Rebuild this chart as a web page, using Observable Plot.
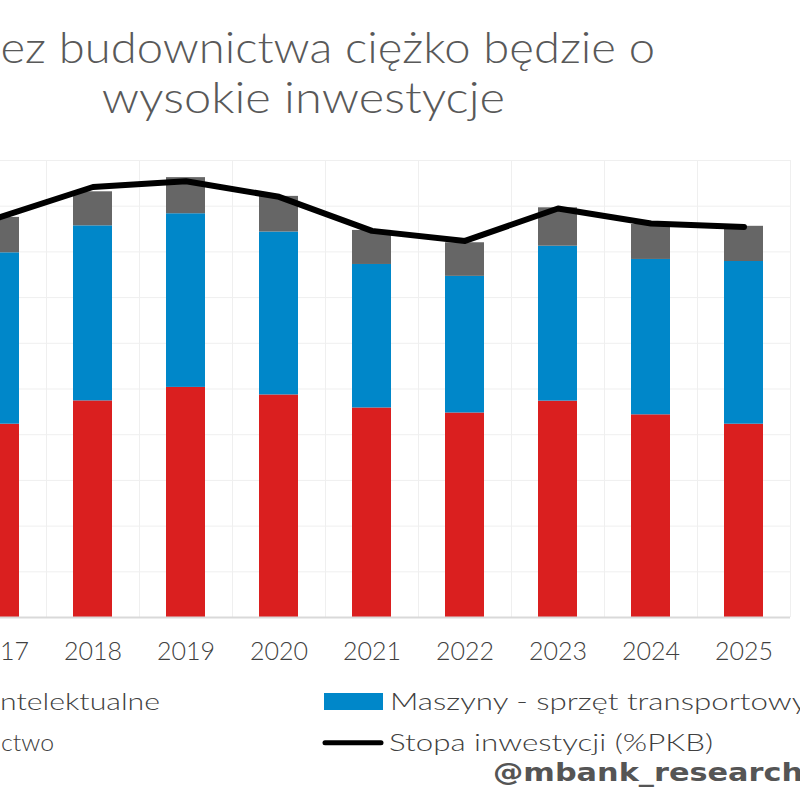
<!DOCTYPE html>
<html><head><meta charset="utf-8">
<script src="https://cdn.jsdelivr.net/npm/d3@7"></script>
<script src="https://cdn.jsdelivr.net/npm/@observablehq/plot@0.6"></script>
<style>
html,body{margin:0;padding:0;background:#fff;}
#wrap{position:relative;width:800px;height:800px;overflow:hidden;background:#fff;}
#chart svg{position:absolute;left:-100px;top:140px;max-width:none !important;width:900px !important;height:539px !important;}
#overlay{position:absolute;left:0;top:0;}
</style>
</head><body>
<div id="wrap"><div id="chart"></div><svg id="overlay" width="800" height="800"></svg></div>
<script>
const years = ["2017","2018","2019","2020","2021","2022","2023","2024","2025"];
const budownictwo = [8.46, 9.48, 10.07, 9.74, 9.17, 8.95, 9.47, 8.87, 8.46];
const maszyny = [7.50, 7.66, 7.60, 7.13, 6.28, 5.98, 6.78, 6.80, 7.12];
const intelektualne = [1.55, 1.49, 1.58, 1.56, 1.49, 1.47, 1.68, 1.53, 1.54];
const stopaInwestycji = [17.52, 18.84, 19.09, 18.41, 16.92, 16.48, 17.90, 17.24, 17.09];
const yTicks = [2,4,6,8,10,12,14,16,18,20];
const seriesNames = ["Budownictwo", "Maszyny - sprzęt transportowy", "Zasoby intelektualne"];
const seriesColors = ["#da1f1f", "#0087c9", "#666666"];
const lineName = "Stopa inwestycji (%PKB)";
const titleLines = ["Bez budownictwa ciężko będzie o", "wysokie inwestycje"];
const credit = "@mbank_research";

const FONT = "Lato, 'Open Sans', sans-serif";
const seriesValues = [budownictwo, maszyny, intelektualne];
const rows = years.flatMap((yr, i) => seriesNames.map((s, k) => ({year: yr, series: s, value: seriesValues[k][i]})));
const lineRows = years.map((yr, i) => ({year: yr, value: stopaInwestycji[i]}));

const W = 900, ML = 53, MR = 10;
const step = (W - ML - MR) / years.length;

const chart = Plot.plot({
  width: W, height: 539,
  marginLeft: ML, marginRight: MR, marginTop: 20, marginBottom: 62,
  style: {fontFamily: FONT, fontSize: "25px", color: "#404040", background: "transparent", fontWeight: 300},
  x: {type: "band", domain: years, paddingInner: 0.58, paddingOuter: 0.29, tickSize: 0, tickPadding: 25, label: null},
  y: {domain: [0, 20], axis: null},
  color: {domain: seriesNames, range: seriesColors},
  marks: [
    Plot.ruleY(yTicks, {y: d => d, stroke: "#efefef", strokeWidth: 1}),
    Plot.ruleX(years, {x: d => d, dx: -step / 2, stroke: "#efefef", strokeWidth: 1}),
    Plot.ruleX(years.slice(-1), {x: d => d, dx: step / 2, stroke: "#efefef", strokeWidth: 1}),
    Plot.barY(rows, {x: "year", y: "value", fill: "series", order: seriesNames}),
    Plot.ruleY([0], {stroke: "#d9d9d9", strokeWidth: 2}),
    Plot.lineY(lineRows, {x: "year", y: "value", stroke: "#000", strokeWidth: 6, strokeLinecap: "round", strokeLinejoin: "round"})
  ]
});
document.getElementById("chart").appendChild(chart);

const ov = d3.select("#overlay");

// fit a text so that the part of it from character `from` on spans [x0, x1]
function fitTail(sel, from, x0, x1) {
  const node = sel.node();
  const n = node.getComputedTextLength();
  const len = node.getNumberOfChars();
  const sub = node.getSubStringLength(from, len - from);
  const f = (x1 - x0) / sub;
  sel.attr("x", x1 - n * f).attr("textLength", n * f).attr("lengthAdjust", "spacingAndGlyphs");
  return x1 - n * f;
}

// title
const title = ov.append("g").attr("font-family", FONT).attr("font-weight", 300).attr("font-size", 43).attr("fill", "#595959");
const t1 = title.append("text").attr("y", 62.7).text(titleLines[0]);
const t2 = title.append("text").attr("y", 112.7).text(titleLines[1]);
fitTail(t1, 1, 0.5, 655);
fitTail(t2, 0, 101.7, 505);

// legend
const leg = ov.append("g").attr("font-family", FONT).attr("font-weight", 300).attr("font-size", 24).attr("fill", "#404040");
const r1 = leg.append("text").attr("y", 709.5).text(seriesNames[1]);
const r2 = leg.append("text").attr("y", 751).text(lineName);
const l1 = leg.append("text").attr("y", 709.5).text(seriesNames[2]);
const l2 = leg.append("text").attr("y", 751).text(seriesNames[0]);
const lf = 324 / r2.node().getComputedTextLength();
fitTail(r2, 0, 389, 713);
const nr1 = r1.node().getComputedTextLength() * lf;
fitTail(r1, 0, 390, 390 + nr1);
const s1 = fitTail(l1, seriesNames[2].length - 12, 0, 160);
const s2 = fitTail(l2, seriesNames[0].length - 4, 1, 54);
const lx = Math.min(s1, s2);
leg.append("rect").attr("x", 324).attr("y", 693).attr("width", 59).attr("height", 17).attr("fill", seriesColors[1]);
leg.append("line").attr("x1", 325).attr("x2", 381).attr("y1", 742.7).attr("y2", 742.7).attr("stroke", "#000").attr("stroke-width", 5).attr("stroke-linecap", "round");
leg.append("rect").attr("x", lx - 66).attr("y", 693).attr("width", 59).attr("height", 17).attr("fill", seriesColors[2]);
leg.append("rect").attr("x", lx - 66).attr("y", 735).attr("width", 59).attr("height", 17).attr("fill", seriesColors[0]);

// credit
const cr = ov.append("text").attr("y", 781).attr("font-family", "'DejaVu Sans', sans-serif").attr("font-weight", 700).attr("font-size", 24).attr("fill", "#555").text(credit);
cr.attr("x", 493).attr("textLength", 310).attr("lengthAdjust", "spacingAndGlyphs");
</script>
</body></html>
